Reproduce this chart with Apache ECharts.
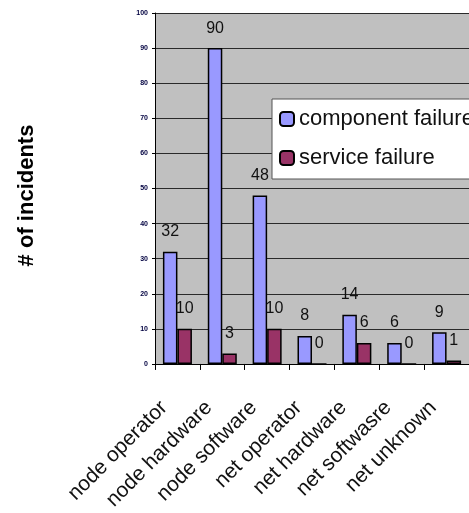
<!DOCTYPE html>
<html><head><meta charset="utf-8">
<style>html,body{margin:0;padding:0;background:#fff}#c{width:469px;height:513px}</style>
<script src="https://cdn.jsdelivr.net/npm/echarts@6/dist/echarts.min.js"></script>
</head><body><div id="c"></div>
<script>
const categories = ['node operator','node hardware','node software','net operator','net hardware','net softwasre','net unknown'];
const componentFailure = [32, 90, 48, 8, 14, 6, 9];
const serviceFailure = [10, 3, 10, 0, 6, 0, 1];
const yTicks = {min: 0, max: 100, interval: 10};

const chart = echarts.init(document.getElementById('c'), null, {renderer: 'canvas'});
const FONT = '"Liberation Sans", Arial, sans-serif';
const labelCfg = {show: true, position: 'top', distance: 12, fontSize: 16, fontFamily: FONT, color: '#111'};
chart.setOption({
  animation: false,
  backgroundColor: '#fff',
  grid: {left: 155, right: -13, top: 13, bottom: 148, show: true, backgroundColor: '#c0c0c0', borderWidth: 0},
  legend: {
    orient: 'vertical', left: 272, top: 99,
    backgroundColor: '#fff', borderColor: '#555', borderWidth: 1,
    padding: [9, 60, 10, 7], itemGap: 17, itemWidth: 14, itemHeight: 14, itemTextGap: 6,
    textStyle: {fontSize: 22, fontFamily: FONT, color: '#111'},
    data: ['component failure', 'service failure']
  },
  xAxis: {
    type: 'category', data: categories,
    axisLine: {lineStyle: {color: '#000', width: 1}},
    axisTick: {show: true, length: 6, lineStyle: {color: '#000'}},
    axisLabel: {rotate: 45, interval: 0, margin: 27, fontSize: 21, fontFamily: FONT, color: '#111', padding: [0, 19, 0, 0]}
  },
  yAxis: {
    type: 'value', min: yTicks.min, max: yTicks.max, interval: yTicks.interval,
    name: '# of incidents', nameLocation: 'middle', nameRotate: 90, nameGap: 117,
    nameTextStyle: {fontSize: 22, fontWeight: 'bold', fontFamily: FONT, color: '#000', padding: [0, 14, 0, 0]},
    axisLine: {show: true, lineStyle: {color: '#000', width: 1}},
    axisTick: {show: true, length: 3, lineStyle: {color: '#000'}},
    splitLine: {show: true, lineStyle: {color: '#2a2a2a', width: 1}},
    axisLabel: {fontSize: 7, fontWeight: 'bold', fontFamily: FONT, color: '#000040', margin: 7}
  },
  series: [
    {name: 'component failure', type: 'bar', data: componentFailure, barWidth: 14.5, barGap: '0%',
     itemStyle: {color: '#9999ff', borderColor: '#000', borderWidth: 1.5}, label: labelCfg},
    {name: 'service failure', type: 'bar', data: serviceFailure, barWidth: 14.5, barGap: '0%',
     itemStyle: {color: '#993366', borderColor: '#000', borderWidth: 1.5}, label: labelCfg}
  ]
});
</script></body></html>
